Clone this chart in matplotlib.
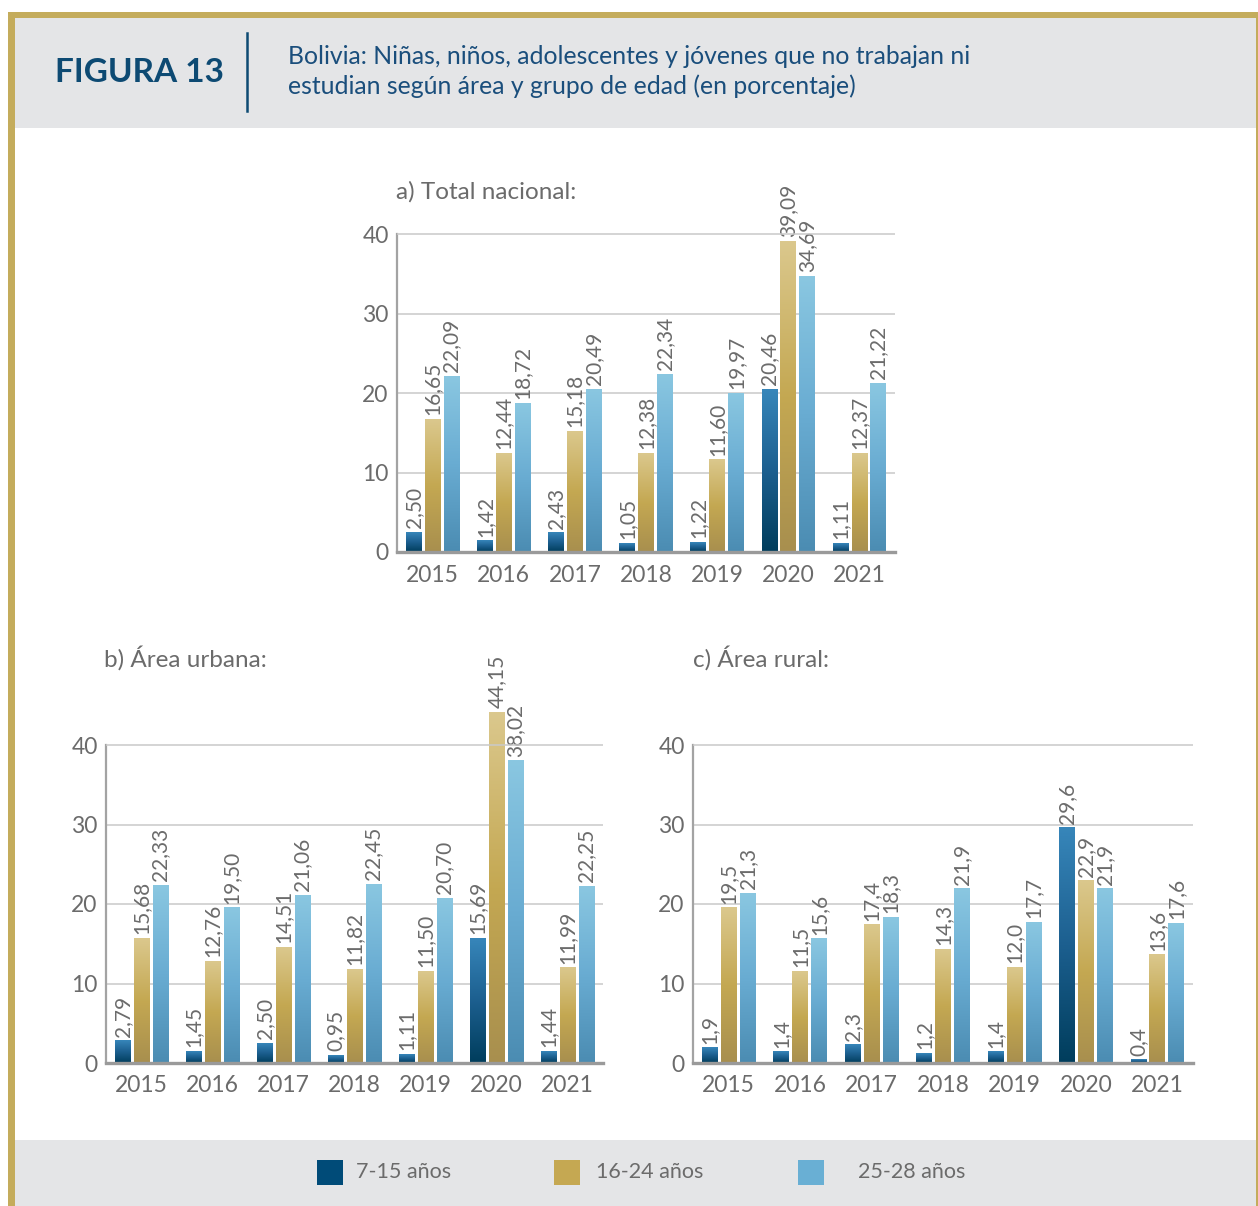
import matplotlib
matplotlib.use("Agg")
import matplotlib.pyplot as plt
import numpy as np
from matplotlib.colors import LinearSegmentedColormap
from matplotlib.patches import Rectangle
from matplotlib.lines import Line2D

plt.rcParams['font.family'] = ['Lato', 'DejaVu Sans']

years = ['2015', '2016', '2017', '2018', '2019', '2020', '2021']
groups = ['7-15 años', '16-24 años', '25-28 años']

# a) Total nacional
nac_715 = [2.50, 1.42, 2.43, 1.05, 1.22, 20.46, 1.11]
nac_1624 = [16.65, 12.44, 15.18, 12.38, 11.60, 39.09, 12.37]
nac_2528 = [22.09, 18.72, 20.49, 22.34, 19.97, 34.69, 21.22]

# b) Area urbana
urb_715 = [2.79, 1.45, 2.50, 0.95, 1.11, 15.69, 1.44]
urb_1624 = [15.68, 12.76, 14.51, 11.82, 11.50, 44.15, 11.99]
urb_2528 = [22.33, 19.50, 21.06, 22.45, 20.70, 38.02, 22.25]

# c) Area rural
rur_715 = [1.9, 1.4, 2.3, 1.2, 1.4, 29.6, 0.4]
rur_1624 = [19.5, 11.5, 17.4, 14.3, 12.0, 22.9, 13.6]
rur_2528 = [21.3, 15.6, 18.3, 21.9, 17.7, 21.9, 17.6]

GREY = '#6b6b6b'
NAVY = '#0d4a73'
cmaps = [
    LinearSegmentedColormap.from_list('b', ['#003d5c', '#1c5f8f', '#3786ba']),
    LinearSegmentedColormap.from_list('g', ['#a88f4e', '#c4a852', '#dbc88d']),
    LinearSegmentedColormap.from_list('l', ['#4b8cb2', '#69acd2', '#8ac7e1']),
]
solid = ['#004b78', '#c5a852', '#69afd4']
grad = np.linspace(0, 1, 256).reshape(-1, 1)

W, H = 1258, 1206
fig = plt.figure(figsize=(W / 100, H / 100), dpi=100)


def fx(px):
    return px / W


def fy(py):
    return 1 - py / H


# frame and header
fig.add_artist(Rectangle((fx(8), fy(1206)), fx(7), fy(12) - fy(1206), color='#c4ac5c', lw=0))
fig.add_artist(Rectangle((fx(8), fy(18)), fx(1250), fy(12) - fy(18), color='#c4ac5c', lw=0))
fig.add_artist(Rectangle((fx(1256), fy(1206)), fx(2), fy(12) - fy(1206), color='#c4ac5c', lw=0))
fig.add_artist(Rectangle((fx(15), fy(128)), fx(1241), fy(18) - fy(128), color='#e4e5e7', lw=0))
fig.add_artist(Rectangle((fx(15), fy(1206)), fx(1241), fy(1140) - fy(1206), color='#e4e5e7', lw=0))
fig.add_artist(Line2D([fx(247), fx(247)], [fy(33), fy(111)], color=NAVY, lw=1.8))
fig.text(fx(55), fy(72), 'FIGURA 13', fontsize=24, fontweight='bold', color=NAVY,
         ha='left', va='center')
fig.text(fx(288), fy(56), 'Bolivia: Niñas, niños, adolescentes y jóvenes que no trabajan ni',
         fontsize=17.8, color='#1a4e7c', ha='left', va='center')
fig.text(fx(288), fy(86), 'estudian según área y grupo de edad (en porcentaje)',
         fontsize=17.8, color='#1a4e7c', ha='left', va='center')


def panel(rect, title, tx, ty, series, fmt):
    ax = fig.add_axes(rect)
    x = np.arange(len(years))
    off = [-0.265, 0, 0.265]
    for k, vals in enumerate(series):
        bars = ax.bar(x + off[k], vals, width=0.22, color='none', zorder=2)
        for b, v in zip(bars, vals):
            ax.imshow(grad, extent=[b.get_x(), b.get_x() + b.get_width(), 0, b.get_height()],
                      origin='lower', aspect='auto', cmap=cmaps[k], zorder=2)
            ax.annotate(fmt(v), (b.get_x() + b.get_width() / 2, b.get_height()),
                        xytext=(0, 3), textcoords='offset points', rotation=90,
                        ha='center', va='bottom', fontsize=15, color=GREY)
    ax.set_xlim(-0.5, 6.5)
    ax.set_ylim(0, 47)
    ax.set_yticks([0, 10, 20, 30, 40])
    ax.set_xticks(x)
    ax.set_xticklabels(years)
    for yv in [10, 20, 30]:
        ax.axhline(yv, color='#c9c9c9', lw=1.1, zorder=1)
    ax.axhline(40, color='#c9c9c9', lw=1.1, zorder=3)
    ax.spines['top'].set_visible(False)
    ax.spines['right'].set_visible(False)
    ax.spines['left'].set_bounds(0, 40)
    ax.spines['left'].set_color('#a3a3a3')
    ax.spines['left'].set_linewidth(1.6)
    ax.spines['bottom'].set_color('#9a9a9a')
    ax.spines['bottom'].set_linewidth(2.4)
    ax.spines['bottom'].set_zorder(4)
    ax.tick_params(length=0, labelsize=16.5, colors=GREY)
    ax.tick_params(axis='y', pad=6)
    ax.tick_params(axis='x', pad=9)
    ax.patch.set_alpha(0)
    fig.text(fx(tx), fy(ty), title, fontsize=17.5, color=GREY, ha='left', va='center')
    return ax


f2 = lambda v: f'{v:.2f}'.replace('.', ',')
f1 = lambda v: f'{v:.1f}'.replace('.', ',')

hgt = 318 / 40 * 47 / H
panel([fx(397), fy(552), fx(498), hgt], 'a) Total nacional:', 396, 192,
      [nac_715, nac_1624, nac_2528], f2)
panel([fx(106), fy(1063), fx(497), hgt], 'b) Área urbana:', 104, 658,
      [urb_715, urb_1624, urb_2528], f2)
panel([fx(693), fy(1063), fx(500), hgt], 'c) Área rural:', 693, 658,
      [rur_715, rur_1624, rur_2528], f1)

# legend
sq_x = [317, 554, 798]
lab_x = [356, 596, 858]
for k in range(3):
    fig.add_artist(Rectangle((fx(sq_x[k]), fy(1185)), fx(26), fy(1160) - fy(1185),
                             color=solid[k], lw=0))
    fig.text(fx(lab_x[k]), fy(1172), groups[k], fontsize=15.5, color=GREY,
             ha='left', va='center')

fig.savefig('out.png', dpi=100)
